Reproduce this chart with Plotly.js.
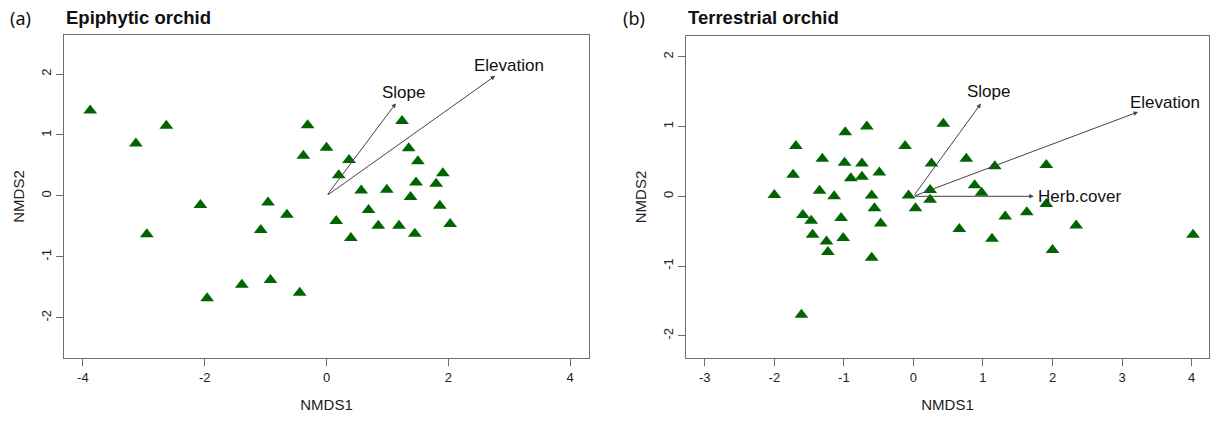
<!DOCTYPE html>
<html>
<head>
<meta charset="utf-8">
<script src="https://cdn.plot.ly/plotly-3.0.1.min.js"></script>
<style>html,body{margin:0;padding:0;background:#fff;}#chart{width:1218px;height:423px;}</style>
</head>
<body>
<div id="chart"></div>
<script>
// ---- Data: (a) Epiphytic orchid site scores ----
const epiNMDS1 = [-3.88,-3.13,-2.63,-2.95,-2.07,-1.96,-1.39,-0.96,-1.08,-0.92,-0.65,-0.44,-0.38,-0.31,0.00,0.37,0.20,0.16,0.40,0.57,0.69,0.85,0.99,1.19,1.24,1.35,1.38,1.45,1.47,1.50,1.80,1.86,1.91,2.03];
const epiNMDS2 = [1.40,0.86,1.15,-0.63,-0.15,-1.68,-1.46,-0.11,-0.56,-1.38,-0.31,-1.59,0.66,1.16,0.79,0.59,0.34,-0.41,-0.69,0.09,-0.23,-0.49,0.10,-0.49,1.23,0.78,-0.02,-0.62,0.22,0.57,0.20,-0.16,0.37,-0.46];
// env vectors (a)
const epiVecNames = ["Slope","Elevation"];
const epiVecX = [1.14, 2.77];
const epiVecY = [1.52, 1.97];

// ---- Data: (b) Terrestrial orchid site scores ----
const terNMDS1 = [-0.67,-0.98,-1.69,-0.12,-1.31,-0.99,-0.74,0.26,-1.73,-0.90,-0.74,-0.49,-2.00,-1.35,-1.14,-0.60,-0.07,0.24,0.24,0.03,-0.56,-1.59,-1.47,-1.04,-0.47,-1.45,-1.01,-1.25,-1.23,-0.60,-1.61,0.43,0.76,1.17,1.91,0.88,0.98,1.91,1.63,1.32,0.66,1.13,2.34,2.00,4.02];
const terNMDS2 = [1.00,0.92,0.72,0.72,0.54,0.48,0.47,0.47,0.31,0.26,0.28,0.34,0.02,0.08,0.00,0.01,0.01,0.09,-0.05,-0.17,-0.17,-0.27,-0.35,-0.31,-0.39,-0.55,-0.60,-0.65,-0.80,-0.88,-1.70,1.04,0.54,0.43,0.45,0.16,0.05,-0.11,-0.23,-0.29,-0.47,-0.61,-0.42,-0.77,-0.55];
// env vectors (b)
const terVecNames = ["Slope","Elevation","Herb.cover"];
const terVecX = [0.97, 3.23, 1.73];
const terVecY = [1.33, 1.21, 0.00];

// ---- Tick values and labels (hyphen minus, as in the original) ----
const epiXTicks = [-4, -2, 0, 2, 4];
const epiXTickText = ["-4", "-2", "0", "2", "4"];
const epiYTicks = [-2, -1, 0, 1, 2];
const epiYTickText = ["-2", "-1", "0", "1", "2"];
const terXTicks = [-3, -2, -1, 0, 1, 2, 3, 4];
const terXTickText = ["-3", "-2", "-1", "0", "1", "2", "3", "4"];
const terYTicks = [-2, -1, 0, 1, 2];
const terYTickText = ["-2", "-1", "0", "1", "2"];

// panel titles
const panelTags = ["(a)","(b)"];
const panelTitles = ["Epiphytic orchid","Terrestrial orchid"];
const xTitle = "NMDS1";
const yTitle = "NMDS2";

// ---- Styling ----
const W = 1218, H = 423;
const FONT = "Liberation Sans, Arial, Helvetica, sans-serif";
const green = "#006400";
const lineCol = "#6e6e6e";

const marker = {symbol: "triangle-up", size: 12, color: green, line: {width: 0}};

const traces = [
  {type: "scatter", mode: "markers", x: epiNMDS1, y: epiNMDS2, xaxis: "x", yaxis: "y", marker: marker, hoverinfo: "x+y", showlegend: false},
  {type: "scatter", mode: "markers", x: terNMDS1, y: terNMDS2, xaxis: "x2", yaxis: "y2", marker: marker, hoverinfo: "x+y", showlegend: false}
];

function px2fx(p){ return p / W; }
function py2fy(p){ return 1 - p / H; }

function axisBase(extra){
  return Object.assign({
    showline: true, mirror: true, linecolor: lineCol, linewidth: 1,
    ticks: "outside", ticklen: 7, tickwidth: 1, tickcolor: lineCol,
    showgrid: false, zeroline: false, automargin: false,
    tickmode: "array",
    tickfont: {family: FONT, size: 13, color: "#222"},
    fixedrange: true
  }, extra);
}

const layout = {
  width: W, height: H,
  margin: {l: 0, r: 0, t: 0, b: 0},
  paper_bgcolor: "#fff", plot_bgcolor: "#fff",
  showlegend: false,
  xaxis: axisBase({domain: [px2fx(64), px2fx(589)], range: [-4.31, 4.31], tickvals: epiXTicks, ticktext: epiXTickText, anchor: "y",
    title: {text: xTitle, font: {family: FONT, size: 15, color: "#222"}, standoff: 15}}),
  yaxis: axisBase({domain: [py2fy(358), py2fy(35)], range: [-2.66, 2.64], tickvals: epiYTicks, ticktext: epiYTickText, anchor: "x", tickangle: -90,
    title: {text: yTitle, font: {family: FONT, size: 15, color: "#222"}, standoff: 10}}),
  xaxis2: axisBase({domain: [px2fx(686), px2fx(1209)], range: [-3.27, 4.25], tickvals: terXTicks, ticktext: terXTickText, anchor: "y2",
    title: {text: xTitle, font: {family: FONT, size: 15, color: "#222"}, standoff: 15}}),
  yaxis2: axisBase({domain: [py2fy(358), py2fy(36)], range: [-2.32, 2.30], tickvals: terYTicks, ticktext: terYTickText, anchor: "x2", tickangle: -90,
    title: {text: yTitle, font: {family: FONT, size: 15, color: "#222"}, standoff: 10}}),
  annotations: []
};

// panel headers
const tagX = [8, 621];
const titleX = [64, 686];
for (let i = 0; i < 2; i++){
  layout.annotations.push({xref: "paper", yref: "paper", x: px2fx(tagX[i]), y: py2fy(18), xanchor: "left", yanchor: "middle",
    text: panelTags[i], showarrow: false, font: {family: "Noto Sans, Open Sans, sans-serif", size: 18, color: "#111"}});
  layout.annotations.push({xref: "paper", yref: "paper", x: px2fx(titleX[i]), y: py2fy(18), xanchor: "left", yanchor: "middle",
    text: "<b>" + panelTitles[i] + "</b>", showarrow: false, font: {family: FONT, size: 18.5, color: "#111"}});
}

// vectors
const labStyle = {
  "x|Slope": {xanchor: "center", xshift: 8, yshift: 11},
  "x|Elevation": {xanchor: "center", xshift: 14, yshift: 10},
  "x2|Slope": {xanchor: "center", xshift: 8, yshift: 12},
  "x2|Elevation": {xanchor: "center", xshift: 27, yshift: 9},
  "x2|Herb.cover": {xanchor: "left", xshift: 2, yshift: 0}
};
function addVectors(names, vx, vy, xr, yr){
  for (let i = 0; i < names.length; i++){
    layout.annotations.push({xref: xr, yref: yr, axref: xr, ayref: yr, x: vx[i], y: vy[i], ax: 0, ay: 0,
      text: "", showarrow: true, arrowhead: 2, arrowsize: 0.9, arrowwidth: 1, arrowcolor: "#444", standoff: 0, startstandoff: 0});
    const s = labStyle[xr + "|" + names[i]];
    layout.annotations.push({xref: xr, yref: yr, x: vx[i], y: vy[i], text: names[i], showarrow: false,
      xanchor: s.xanchor, yanchor: "middle", xshift: s.xshift, yshift: s.yshift,
      font: {family: FONT, size: 17, color: "#111"}});
  }
}
addVectors(epiVecNames, epiVecX, epiVecY, "x", "y");
addVectors(terVecNames, terVecX, terVecY, "x2", "y2");

Plotly.newPlot("chart", traces, layout, {displayModeBar: false, staticPlot: true});
</script>
</body>
</html>
